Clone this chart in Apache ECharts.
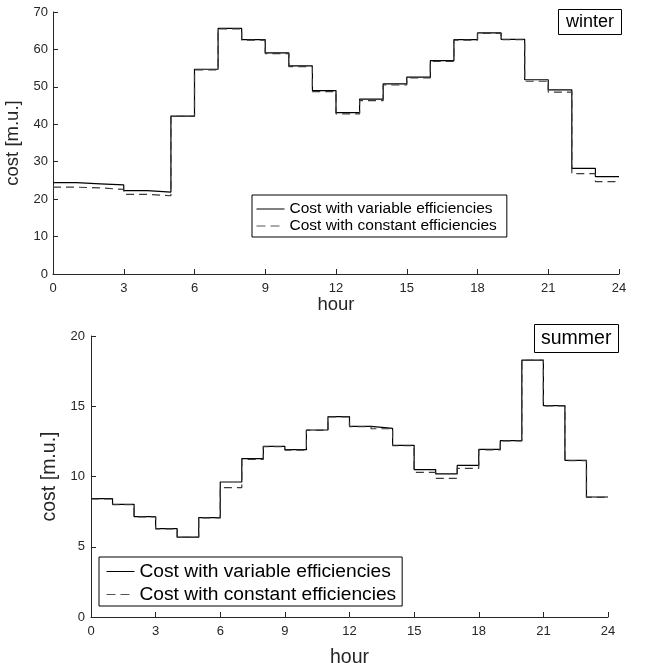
<!DOCTYPE html>
<html><head><meta charset="utf-8">
<script src="https://cdn.jsdelivr.net/npm/echarts@6/dist/echarts.min.js"></script>
<style>html,body{margin:0;padding:0;background:#fff}#c{width:645px;height:663px}</style>
</head><body><div id="c"></div>
<script>
// hour boundaries (24 hourly intervals)
const hours = [0,1,2,3,4,5,6,7,8,9,10,11,12,13,14,15,16,17,18,19,20,21,22,23,24];
const seriesNames = ['Cost with variable efficiencies', 'Cost with constant efficiencies'];
const panelLabels = ['winter', 'summer'];
const xAxisName = 'hour';
const yAxisName = 'cost [m.u.]';

const winterVariable = [24.4,24.1,23.8,22.3,21.9,42.2,54.7,65.6,62.6,59.1,55.6,49.0,43.1,46.7,50.8,52.6,57.0,62.6,64.4,62.7,51.9,49.2,28.2,26.0];
const winterConstant = [23.2,23.0,22.6,21.3,20.9,42.1,54.5,65.5,62.5,58.9,55.4,48.7,42.8,46.3,50.5,52.4,56.8,62.5,64.3,62.6,51.5,48.6,26.8,24.7];
const summerVariable = [8.42,8.02,7.14,6.29,5.69,7.07,9.61,11.27,12.15,11.91,13.31,14.26,13.57,13.43,12.22,10.49,10.18,10.79,11.93,12.55,18.29,15.04,11.15,8.54];
const summerConstant = [8.40,8.00,7.12,6.27,5.67,7.05,9.21,11.22,12.13,11.88,13.29,14.24,13.55,13.40,12.19,10.30,9.87,10.58,11.90,12.53,18.27,15.02,11.13,8.52];

function stepData(vals){
  return hours.map((h,i)=>[h, vals[Math.min(i, vals.length-1)]]);
}

const FONT = 'Liberation Sans, Arial, sans-serif';
const AX = '#262626';

function xAxisCfg(gridIndex, fs, nameFs, gap){
  return {
    type:'value', gridIndex, min:0, max:24, interval:3,
    name:xAxisName, nameLocation:'middle', nameGap:gap,
    nameTextStyle:{fontFamily:FONT, fontSize:nameFs, color:AX},
    axisLine:{show:true, lineStyle:{color:AX, width:1}},
    axisTick:{show:true, inside:true, length:5, lineStyle:{color:AX}},
    axisLabel:{fontFamily:FONT, fontSize:fs, color:AX, margin:8},
    splitLine:{show:false}
  };
}
function yAxisCfg(gridIndex, max, interval, fs, nameFs, gap, margin){
  return {
    type:'value', gridIndex, min:0, max, interval,
    name:yAxisName, nameLocation:'middle', nameGap:gap, nameRotate:90,
    nameTextStyle:{fontFamily:FONT, fontSize:nameFs, color:AX},
    axisLine:{show:true, lineStyle:{color:AX, width:1}},
    axisTick:{show:true, inside:true, length:5, lineStyle:{color:AX}},
    axisLabel:{fontFamily:FONT, fontSize:fs, color:AX, margin},
    splitLine:{show:false}
  };
}
function lineSeries(name, vals, idx, dashed){
  return {
    type:'line', name, xAxisIndex:idx, yAxisIndex:idx,
    step:'end', symbol:'none', data:stepData(vals),
    lineStyle: dashed ? {color:'#3a3a3a', width:1.2, type:[8,5]} : {color:'#000', width:1.2},
    itemStyle:{color: dashed ? '#3a3a3a' : '#000'},
    z: dashed ? 3 : 2
  };
}
const legendData = [
  {name:seriesNames[0], lineStyle:{width:1, color:'#000'}},
  {name:seriesNames[1], lineStyle:{width:1, color:'#555', type:[9,5]}}
];

const chart = echarts.init(document.getElementById('c'), null, {renderer:'canvas'});
chart.setOption({
  animation:false,
  backgroundColor:'#fff',
  grid:[
    {left:53, right:26, top:12, height:262, outerBoundsMode:'none'},
    {left:91, right:37, top:336, height:281, outerBoundsMode:'none'}
  ],
  xAxis:[ xAxisCfg(0, 13, 18.5, 19), xAxisCfg(1, 13, 19.5, 31) ],
  yAxis:[ yAxisCfg(0, 70, 10, 13, 18.5, 24, 5), yAxisCfg(1, 20, 5, 13, 19.5, 25, 6) ],
  title:[
    {text:panelLabels[0], left:558, top:9, padding:[4,8,4,8], borderColor:'#000', borderWidth:1, backgroundColor:'#fff',
     textStyle:{fontFamily:FONT, fontSize:18, fontWeight:'normal', color:'#000'}},
    {text:panelLabels[1], left:534, top:324, padding:[5,7,4,7], borderColor:'#000', borderWidth:1, backgroundColor:'#fff',
     textStyle:{fontFamily:FONT, fontSize:19.5, fontWeight:'normal', color:'#000'}}
  ],
  legend:[
    {data:legendData, orient:'vertical', left:252, top:195, padding:[6,10,3,4], itemGap:1,
     itemWidth:28, itemHeight:14, borderColor:'#000', borderWidth:1, backgroundColor:'#fff',
     itemStyle:{opacity:0, borderWidth:0}, lineStyle:{width:1},
     selectedMode:false, textStyle:{fontFamily:FONT, fontSize:15.5, color:'#000'}},
    {data:legendData, orient:'vertical', left:99, top:557, padding:[5,6,2,7], itemGap:4,
     itemWidth:28, itemHeight:17, borderColor:'#000', borderWidth:1, backgroundColor:'#fff',
     itemStyle:{opacity:0, borderWidth:0}, lineStyle:{width:1},
     selectedMode:false, textStyle:{fontFamily:FONT, fontSize:19.2, color:'#000'}}
  ],
  series:[
    lineSeries(seriesNames[0], winterVariable, 0, false),
    lineSeries(seriesNames[1], winterConstant, 0, true),
    lineSeries(seriesNames[0], summerVariable, 1, false),
    lineSeries(seriesNames[1], summerConstant, 1, true)
  ]
});
</script></body></html>
